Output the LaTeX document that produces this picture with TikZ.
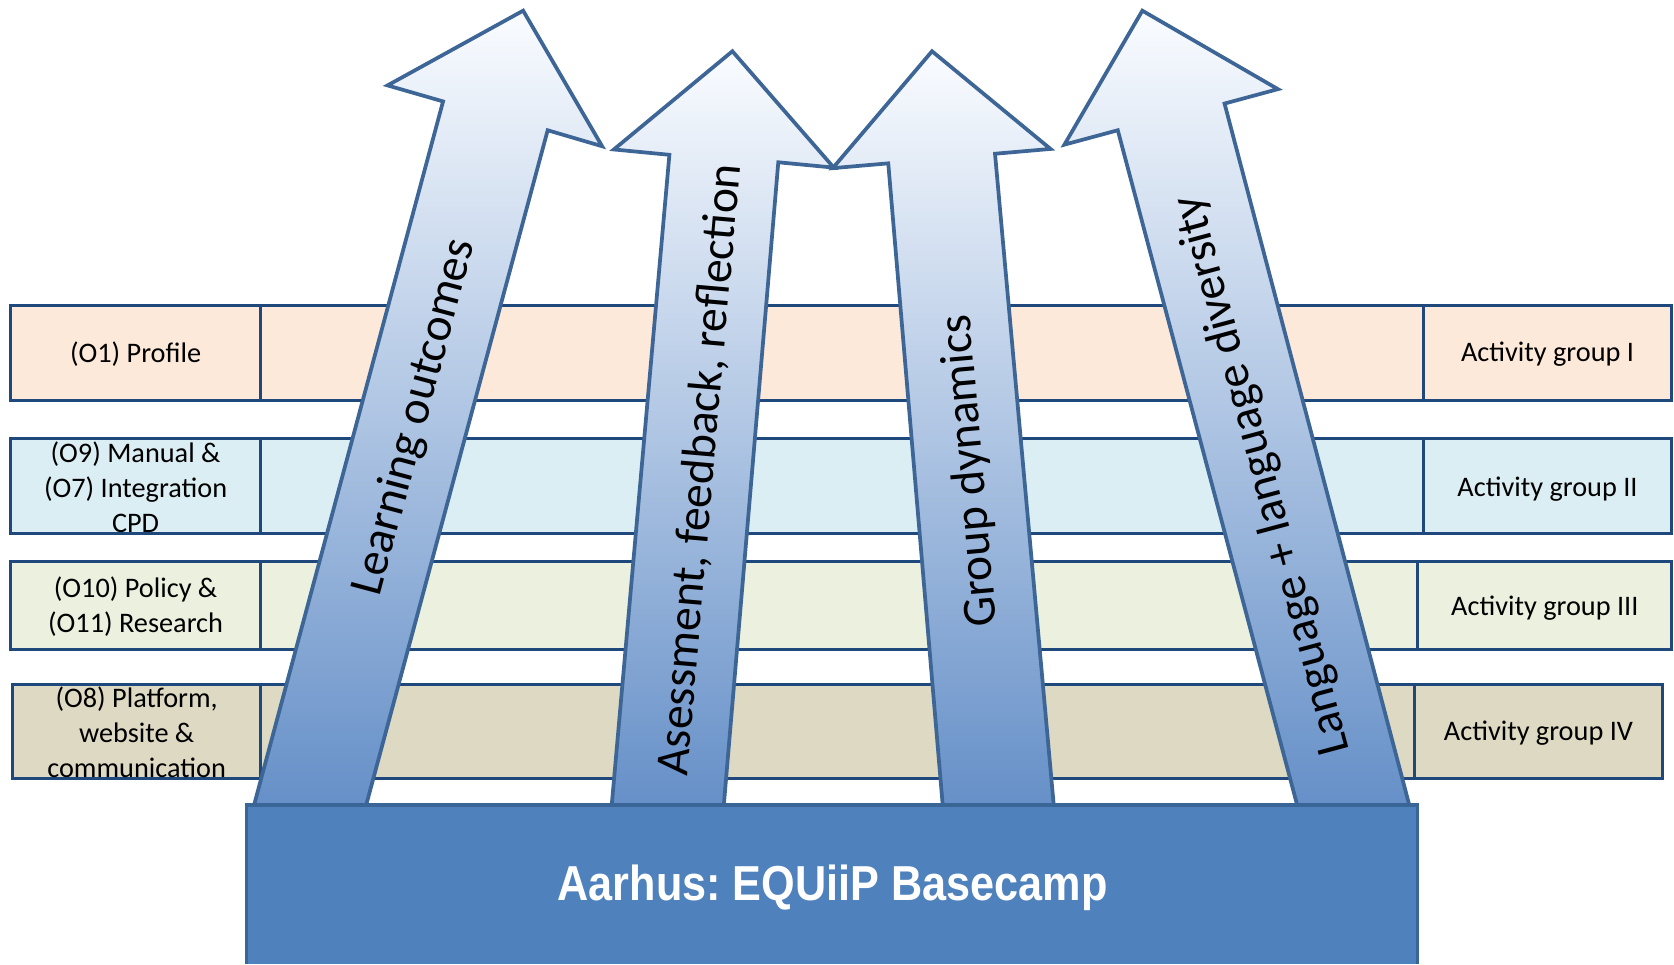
\documentclass[tikz,border=0pt]{standalone}
\usepackage{fontspec}
\setmainfont{Carlito}
\newfontfamily\arialfont[FakeStretch=0.88]{Liberation Sans}
\definecolor{rowline}{HTML}{1F497D}
\definecolor{peach}{HTML}{FDE9D9}
\definecolor{lblue}{HTML}{DBEEF3}
\definecolor{lgreen}{HTML}{EBF1DE}
\definecolor{tanfill}{HTML}{DDD9C3}
\definecolor{arrline}{HTML}{3D6696}
\definecolor{arrtop}{HTML}{FAFCFF}
\definecolor{arrmid}{HTML}{C3D3EE}
\definecolor{arrbot}{HTML}{6690C8}
\definecolor{basefill}{HTML}{4F81BD}
\definecolor{basebord}{HTML}{3A6597}
\frenchspacing
\begin{document}
\begin{tikzpicture}[x=1pt,y=-1pt,
  cell/.style={draw=rowline, line width=3pt, anchor=north west, inner sep=0pt, outer sep=0pt},
  celltxt/.style={font=\fontsize{26.5}{32.5}\selectfont, align=center, inner sep=0pt, text=black},
  bigarrow/.style={draw=arrline, line width=3.5pt, line join=miter, top color=arrtop, middle color=arrmid, bottom color=arrbot},
  arrtxt/.style={font=\fontsize{44.5}{50}\selectfont, inner sep=0pt, text=black},
  basetxt/.style={font=\arialfont\bfseries\fontsize{46}{52}\selectfont, text=white, inner sep=0pt}]
\useasboundingbox (0,0) rectangle (1568,903);

% Row 1
\node[cell, fill=peach, minimum width=234pt, minimum height=89pt] (r1l) at (10,286) {};
\node[cell, fill=peach, minimum width=1089pt, minimum height=89pt] (r1m) at (244,286) {};
\node[cell, fill=peach, minimum width=233pt, minimum height=89pt] (r1r) at (1333,286) {};
% Row 2
\node[cell, fill=lblue, minimum width=234pt, minimum height=89pt] (r2l) at (10,411) {};
\node[cell, fill=lblue, minimum width=1089pt, minimum height=89pt] (r2m) at (244,411) {};
\node[cell, fill=lblue, minimum width=233pt, minimum height=89pt] (r2r) at (1333,411) {};
% Row 3
\node[cell, fill=lgreen, minimum width=234pt, minimum height=82pt] (r3l) at (10,526) {};
\node[cell, fill=lgreen, minimum width=1084pt, minimum height=82pt] (r3m) at (244,526) {};
\node[cell, fill=lgreen, minimum width=238pt, minimum height=82pt] (r3r) at (1328,526) {};
% Row 4
\node[cell, fill=tanfill, minimum width=232pt, minimum height=88pt] (r4l) at (12,641) {};
\node[cell, fill=tanfill, minimum width=1081pt, minimum height=88pt] (r4m) at (244,641) {};
\node[cell, fill=tanfill, minimum width=232pt, minimum height=88pt] (r4r) at (1325,641) {};

% Row texts
\node[celltxt] (t1l) at ([yshift=-1pt]r1l.center) {(O1) Profile};
\node[celltxt] (t2l) at ([yshift=-1pt]r2l.center) {(O9) Manual \&\\(O7) Integration\\CPD};
\node[celltxt] (t3l) at ([yshift=-1pt]r3l.center) {(O10) Policy \&\\(O11) Research};
\node[celltxt] (t4l) at ([yshift=-1pt]r4l.center) {(O8) Platform,\\website \&\\communication};
\node[celltxt] (t1r) at ([yshift=-1pt]r1r.center) {Activity group I};
\node[celltxt] (t2r) at ([yshift=-3pt]r2r.center) {Activity group II};
\node[celltxt] (t3r) at ([yshift=-3pt]r3r.center) {Activity group III};
\node[celltxt] (t4r) at ([yshift=-2pt]r4r.center) {Activity group IV};

% Arrows
\path[bigarrow] (238,754) -- (415,95) -- (363,80) -- (490,10) -- (564,137) -- (513,122) -- (343,754) -- cycle;
\path[bigarrow] (573,754) -- (627,145) -- (575,140) -- (686,48) -- (781,157) -- (729,152) -- (678,754) -- cycle;
\path[bigarrow] (883,754) -- (832,153) -- (780,157.5) -- (873,48) -- (984,139.5) -- (932,144) -- (987,754) -- cycle;
\path[bigarrow] (1215,754) -- (1047,122) -- (997,135.5) -- (1070,10) -- (1197,83.5) -- (1147,97) -- (1320,754) -- cycle;

\node[arrtxt, rotate=75] (a1) at (389,391) {Learning outcomes};
\node[arrtxt, rotate=85] (a2) at (656,440) {Asessment, feedback, reflection};
\node[arrtxt, rotate=95] (a3) at (909,441) {Group dynamics};
\node[arrtxt, rotate=105] (a4) at (1183,445) {Language + language diversity};

% Basecamp
\node[fill=basefill, anchor=north west, minimum width=1097pt, minimum height=149pt, inner sep=0pt, outer sep=0pt] (base) at (231,754) {};
\draw[basebord, line width=3pt] (base.south west) -- (base.north west) -- (base.north east) -- (base.south east);
\node[basetxt] (bt) at (780,832) {Aarhus: EQUiiP Basecamp};
\end{tikzpicture}
\end{document}
